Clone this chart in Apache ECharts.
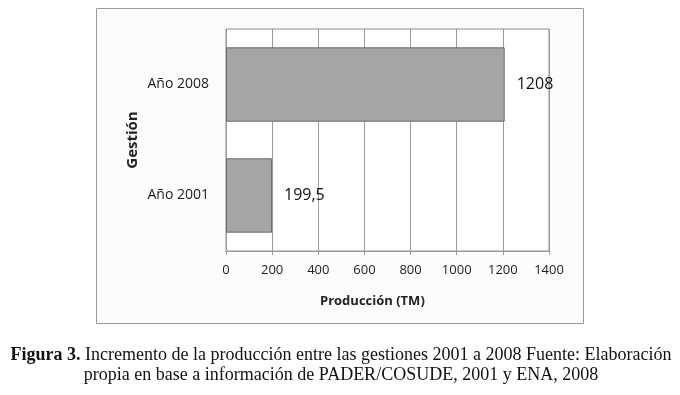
<!DOCTYPE html>
<html>
<head>
<meta charset="utf-8">
<script src="https://cdn.jsdelivr.net/npm/echarts@6/dist/echarts.min.js"></script>
<style>
html,body{margin:0;padding:0;background:#fff;}
#chart{width:680px;height:395px;}
</style>
</head>
<body>
<div id="chart"></div>
<script>
var categories = ["Año 2001", "Año 2008"];
var values = [199.5, 1208];
var xTicks = [0, 200, 400, 600, 800, 1000, 1200, 1400];
var yTitle = "Gestión";
var xTitle = "Producción (TM)";
var captionBold = "Figura 3.";
var captionLine1 = " Incremento de la producción entre las gestiones 2001 a 2008 Fuente: Elaboración";
var captionLine2 = "propia en base a información de PADER/COSUDE, 2001 y ENA, 2008";

var chart = echarts.init(document.getElementById('chart'), null, {renderer: 'canvas'});
var sans = '"Open Sans", "Noto Sans", sans-serif';
var serif = '"Liberation Serif", "DejaVu Serif", serif';
chart.setOption({
  animation: false,
  backgroundColor: '#fff',
  graphic: [
    {type: 'rect', z: -10, shape: {x: 96.5, y: 8.5, width: 487, height: 315},
     style: {fill: '#fcfcfc', stroke: '#9a9a9a', lineWidth: 1}},
    {type: 'text', left: 320, top: 295, z: 10,
     style: {text: xTitle, font: 'bold 13px ' + sans, fill: '#222'}},
    {type: 'text', z: 10,
     style: {
       x: 341, y: 345,
       text: '{b|' + captionBold + '}{n|' + captionLine1 + '}\n{n|' + captionLine2 + '}',
       align: 'center', verticalAlign: 'top',
       rich: {
         b: {font: 'bold 18px ' + serif, fill: '#111', lineHeight: 20},
         n: {font: '18px ' + serif, fill: '#111', lineHeight: 20}
       }
     }}
  ],
  grid: {left: 226, right: 131, top: 29, bottom: 144, show: true,
         borderColor: '#8f8f8f', borderWidth: 1, backgroundColor: '#ffffff'},
  xAxis: {
    type: 'value', min: 0, max: 1400, interval: 200,
    axisLine: {show: true, lineStyle: {color: '#9a9a9a'}},
    axisTick: {show: true, length: 4, lineStyle: {color: '#9a9a9a'}},
    splitLine: {show: true, lineStyle: {color: '#9a9a9a', width: 1}},
    axisLabel: {margin: 13, fontFamily: sans, fontSize: 13, color: '#222',
      formatter: function (v) { return xTicks.indexOf(v) >= 0 ? String(v) : ''; }}
  },
  yAxis: {
    type: 'category', data: categories,
    name: yTitle, nameLocation: 'middle', nameGap: 86, nameRotate: 90,
    nameTextStyle: {fontFamily: sans, fontSize: 15, fontWeight: 'bold', color: '#222'},
    axisLine: {show: true, lineStyle: {color: '#9a9a9a'}},
    axisTick: {show: false},
    axisLabel: {margin: 17, fontFamily: sans, fontSize: 14, color: '#222'}
  },
  series: [{
    type: 'bar', data: values, barCategoryGap: '33%',
    itemStyle: {color: '#a5a5a5', borderColor: '#6a6a6a', borderWidth: 1},
    label: {show: true, position: 'right', distance: 12, fontFamily: sans, fontSize: 16, color: '#111',
      formatter: function (p) { return String(p.value).replace('.', ','); }}
  }]
});
</script>
</body>
</html>
